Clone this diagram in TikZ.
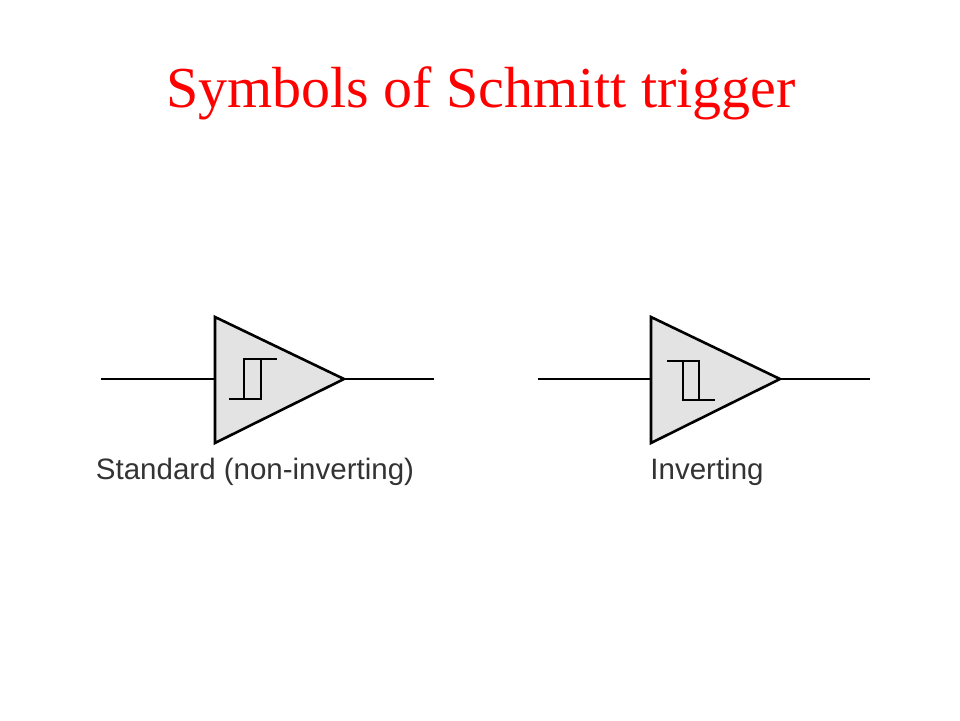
\documentclass[tikz,border=0pt]{standalone}
\usepackage{fontspec}
\setmainfont{Liberation Serif}
\setsansfont{Liberation Sans}
\begin{document}
\begin{tikzpicture}[x=1pt,y=-1pt,line width=2.6pt,
  tri/.style={draw=black,fill=gray!22,line join=miter},
  hyst/.style={line width=2pt},
  lbl/.style={font=\sffamily\fontsize{29.5}{34}\selectfont,text=black!80}]
\useasboundingbox (0,0) rectangle (960,720);
\node[text=red,font=\fontsize{58}{64}\selectfont] (title) at (481,93) {Symbols of Schmitt trigger};
% left
\coordinate (a1) at (101,379); \coordinate (a2) at (215,379);
\coordinate (a3) at (344,379); \coordinate (a4) at (434,379);
\draw (a1) -- (a2); \draw (a3) -- (a4);
\draw[tri] (215,317) -- (344,379) -- (215,443) -- cycle;
\draw[hyst] (229,399) -- (261,399) -- (261,359) (244,399) -- (244,359) -- (277,359);
\node[lbl] (l1) at (255,472) {Standard (non-inverting)};
% right
\coordinate (b1) at (538,379); \coordinate (b2) at (651,379);
\coordinate (b3) at (780,379); \coordinate (b4) at (870,379);
\draw (b1) -- (b2); \draw (b3) -- (b4);
\draw[tri] (651,317) -- (780,379) -- (651,443) -- cycle;
\draw[hyst] (667,361) -- (699,361) -- (699,400) (683,361) -- (683,400) -- (715,400);
\node[lbl] (l2) at (707,472) {Inverting};
\end{tikzpicture}
\end{document}
